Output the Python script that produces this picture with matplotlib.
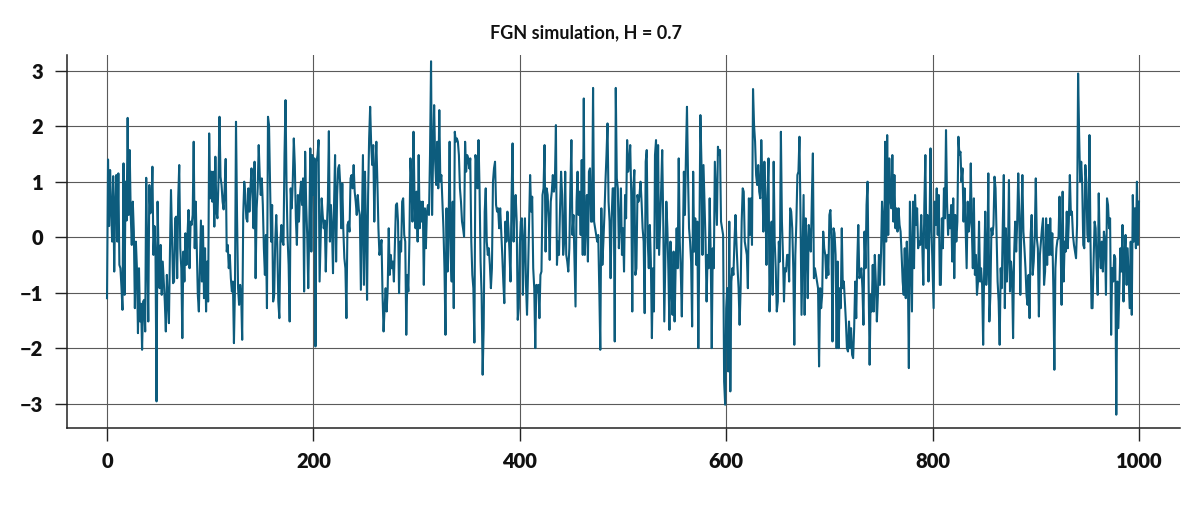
# FGN simulation plot, H = 0.7
import numpy as np
import matplotlib
matplotlib.use("Agg")
import matplotlib.pyplot as plt

# values, 1001 points split in chunks of ~100
seg0 = [-1.10, 1.40, 0.20, 1.21, 0.50, -0.08, 1.10, -0.62, 0.60, 1.12,
        -0.08, 1.15, -0.50, -0.56, -0.90, -1.31, 1.33, -1.04, 1.00, 0.30,
        2.15, 0.40, 1.57, 0.40, -0.14, 0.64, 0.10, -1.28, -0.08, -0.56,
        -1.73, -0.56, -1.52, -1.20, -2.03, -1.16, -1.13, -1.70, 1.07, -0.32,
        -1.52, 0.94, 0.43, 0.49, 1.27, -0.32, 0.20, -0.32, -2.96, 0.64,
        -0.32, -0.92, -0.14, -1.04, -0.44, -0.80, -1.16, -1.70, -0.68, -1.16,
        -1.55, -0.26, 0.85, 0.04, -0.83, -0.80, 0.34, 0.37, -0.74, 0.70,
        1.30, -0.20, -0.56, -1.82, -0.26, -0.80, 0.07, -0.50, 0.04, 0.49,
        -0.56, 0.28, 0.22, 0.40, 1.72, -0.20, 0.64, -0.17, -1.04, -1.34,
        -0.56, 0.30, -0.80, 0.20, -1.10]
seg1 = [-0.20, -1.34, -0.44, -1.16, 1.87, 0.70, 1.18, 0.64, 1.18, 0.19,
        1.45, 0.46, 0.34, 1.00, 2.17, 1.09, 0.94, 0.64, 0.50, 0.88,
        1.41, -0.26, -0.14, -0.56, -0.32, -0.74, -0.98, -0.80, -1.91, -0.92,
        2.08, 0.40, -0.92, -1.22, -0.86, -1.04, -1.85, 0.40, 1.00, 0.76,
        0.34, 0.28, 0.88, 0.46, 0.88, 1.24, 0.76, 0.16, 1.36, -0.74,
        0.52, 0.88, 1.66, 1.12, 0.76, 1.06, 0.58, -0.20, -0.68, 0.04,
        -1.28, 2.17, 2.02, 1.00, -0.08, 0.58, -1.16, -1.04, -0.08, 0.40,
        -0.14, -1.16, -1.46, -0.08, 0.22, -0.08, -0.14, 1.48, 2.47, 0.88,
        -0.02, -0.50, -1.52, 0.88, 0.52, 1.00, 1.78, 1.30, 0.34, -0.14,
        0.76, 0.28, 0.76, 1.00, 0.58, 1.06, -0.98, 1.54, 0.58, 0.04,
        -0.92, 0.16]
seg2 = [1.60, -0.26, 1.48, 0.76, 1.42, -1.97, 1.36, 1.48, 1.75, -0.80,
        -0.08, 0.70, 0.40, 0.16, 0.30, -0.62, 0.16, 0.64, 1.91, -0.08,
        0.58, 0.16, -0.65, 0.58, 1.48, -0.44, 0.76, 1.24, 1.30, 0.94,
        0.16, 0.97, 0.13, -0.38, -0.56, -1.46, 0.22, 0.28, 0.10, 1.06,
        1.12, 0.88, 1.30, 0.82, 0.64, 0.40, 0.76, 0.50, 0.40, -0.95,
        0.28, 1.48, -0.86, 1.18, 0.16, -1.13, 0.76, 1.78, 2.35, 1.66,
        1.30, 1.66, 0.28, 1.18, 1.72, 1.00, 0.16, -0.32, -0.20, -0.05,
        -1.04, -1.70, -1.28, -0.92, -1.34, -0.92, 0.16, -0.68, -0.32, -0.56,
        -0.44, -0.80, -0.08, 0.58, 0.61, 0.28, -1.01, -0.08, -0.26, 0.64,
        0.70, 0.04, -0.08, -1.76, -0.68, -0.98, -0.08, 1.42, 1.00, 0.28,
        1.90]
seg3 = [0.70, 0.16, 0.82, -0.08, 1.48, 0.16, 0.64, 0.28, 0.64,
        -0.86, 0.52, -0.20, 0.46, 0.58, 0.40, 1.48, 3.17, 0.40, 1.48,
        2.38, 1.36, 0.94, 1.72, 0.88, 2.29, 1.00, 1.12, 0.64, 0.16,
        -0.56, -1.76, 0.52, -0.62, 0.16, 1.72, -0.32, -0.80, 0.64, -1.28,
        1.90, 1.72, 1.78, 1.72, 1.48, 0.88, 0.64, 0.28, 0.16, 0.01,
        1.72, 1.18, 1.48, 1.42, 1.24, 1.42, -0.08, -0.68, -0.92, -1.90,
        1.48, 1.36, 0.88, 1.75, 0.88, -0.44, -1.04, -2.48, -1.64, 0.46,
        0.88, -0.08, -0.32, -0.20, -0.50, -0.92, -0.56, 1.00, 1.24, 1.36,
        0.58, 0.46, 0.52, 0.16, 0.52, 0.10, -0.32, -0.80, -1.19, 0.28,
        -0.08, 0.46, 0.16, -0.26, -0.80, 0.70, 1.69, -0.08, 0.52, 0.76,
        0.28, -1.49]
seg4 = [-1.28, -0.14, 0.28, 0.34, -1.04, -0.08, 0.34, -0.86, -1.40, -0.62,
        0.28, 1.12, 0.46, 0.73, -0.56, -0.92, -2.00, -0.86, -0.98, -0.86,
        -1.46, -0.68, -0.62, 0.76, 0.88, 1.66, -0.26, 0.88, 0.76, 0.34,
        -0.41, 0.64, 0.82, 1.12, 0.82, 1.00, 2.02, -0.50, -0.08, -0.32,
        0.52, 1.18, 0.76, -0.32, -0.08, 1.18, -0.32, -0.44, -0.62, -0.20,
        0.88, 1.75, 0.04, 0.40, -0.44, -1.25, 0.64, 1.18, 0.40, 0.82,
        0.04, 1.39, -0.32, 2.50, -0.32, 0.28, 0.76, -0.44, 1.18, 1.24,
        0.28, 0.28, 2.69, 0.28, 0.16, 0.04, -0.08, 0.04, -0.92, -2.03,
        0.52, -0.50, -0.08, 0.40, 1.00, 1.48, 2.05, 0.64, 0.28, -0.74,
        0.34, 0.88, 0.88, -1.88, 2.69, 1.06, 0.88, -0.20, 0.28, 0.88,
        -0.32, 0.16, -0.62]
seg5 = [0.76, 0.34, 1.75, 1.18, 1.36, 1.66, 0.76, -1.34, 0.88, 1.21,
        -0.68, -0.56, 0.76, 0.64, 0.76, 1.00, 0.64, 0.16, -0.08,
        -1.37, 1.36, 1.57, -0.08, -0.56, 0.22, -0.44, -1.82, -0.56, -1.34,
        1.48, 1.75, -0.20, 1.66, -0.32, 0.28, 0.88, 1.57, 0.28, -1.52,
        -0.44, 0.64, 0.16, -0.62, -1.67, -0.08, -0.92, -1.40, -0.26,
        -1.52, -0.56, 0.16, -0.56, 1.42, -0.08, -0.62, -1.43, -0.08, 1.18,
        0.40, 1.48, 2.35, 1.12, 0.16, -0.08, -0.44, -1.61, 1.18, -0.26,
        0.34, -0.50, 0.28, -2.00, -0.08, 2.20, 1.36, -0.32, 1.30,
        0.64, -0.08, -1.16, -0.32, -0.56, 0.70, -0.32, -2.00, -0.20, -0.56,
        1.36, 0.76, 0.22, 1.63, 1.48, 1.57, 0.28, 0.16, 0.04, -2.60,
        -3.02, -1.28, -0.92, -2.42, 0.28]
seg6 = [-2.78,
        -0.80, -0.56, -0.68, -0.08, 0.40, -0.14, -0.56, -0.92, -1.58, -0.92,
        0.28, 0.88, 0.82, -0.08, -0.20, -0.32, -0.92, 0.70, 0.04, 0.70,
        -0.14, 2.67, 2.02, 1.72, 1.12, 0.94, 1.30, 0.82, 0.70, 1.75,
        1.06, 0.10, 1.36, 0.64, -0.50, 0.76, 1.42, -1.34, -0.32, 0.28,
        -1.04, 1.36, -0.08, -0.56, -1.34, -1.16, -0.08, -0.44, 1.90,
        0.28, -0.32, -1.16, -0.56, -0.62, -0.32, -0.32, -0.80, 0.52,
        0.46, 0.16, -0.56, -1.94, -0.32, 0.28, 1.12, 1.18, 1.81, 0.40,
        -1.40, -0.32, 0.76, -1.40, 0.34, -0.08, -1.10, 0.22, 0.04,
        -0.26, 0.70, 1.51, -0.74, -0.56, -0.68, -0.80, -0.92, -2.33, -0.92,
        -1.28, -1.04, 0.10, -0.20, -0.32, -0.74, -0.32, -0.68, 0.40, 0.49,
        -0.08, -1.88, 0.16, 0.07]
seg7 = [-0.32, -2.00, -0.44, -2.00, -0.92, -1.28, 0.16, -0.92, -0.80,
        -1.16, -1.52, -2.00, -2.06, -1.52, -2.00, -1.64, -2.12, -2.18, -1.64,
        -0.80, -1.46, -0.44, 0.22, -0.74, -0.68, -0.56, -0.92, -1.58,
        0.10, -0.56, 0.58, 1.00, -0.80, -2.30, -1.04, -1.34, -0.50, -1.34,
        -0.32, -0.80, -1.52, -1.04, -0.32, -0.86, -0.32, 0.64, 0.28,
        -0.86, 1.72, -0.08, 1.84, 0.04, 1.42, 0.70, 0.52, 1.48, 0.28,
        1.12, 0.16, 0.52, 0.10, 0.52, 0.22, 0.10, -0.32, -0.80, -1.04,
        -0.20, -1.10, -0.08, -0.62, -2.36, 0.64, -0.32, -1.34, 0.64, -0.56,
        0.76, 0.22, 0.52, -0.20, -0.08, -0.14, 0.40, -0.14, -0.86, 0.58,
        1.48, -0.20, 0.40, -0.80, 0.16, 1.60, 0.10, -0.62, -1.28, 0.64,
        0.22, 0.88, 0.04, 0.76, -0.86]
seg8 = [-0.86, 0.34, -0.20, 0.88, 0.34, 1.93, 0.64, 0.04,
        0.40, 0.16, 0.58, -0.44, 0.70, -0.74, 0.40, -0.08, 0.28, 1.81,
        1.48, 1.54, 1.00, 1.24, 0.28, 0.88, 0.16, -0.56, 0.64,
        0.10, 0.28, 1.33, 0.16, -0.56, 0.70, -0.68, -0.32, -1.04, -0.80,
        0.28, -0.80, -0.56, -0.86, -1.94, -0.56, 0.46, -0.86, -0.50, 1.15,
        -1.52, -1.04, 0.16, 0.04, 0.22, 1.09, 0.88, 0.04, -0.80, -1.16,
        -1.94, -0.56, -0.92, 0.22, 1.12, -1.28, 0.16, -0.80, -0.32, 1.03,
        -0.98, -0.44, -0.68, -1.82, -0.32, 0.28, -0.26, 0.28, 1.15, 0.40,
        -1.04, 0.28, 1.12, 0.10, -0.20, -0.56, -1.04, -1.22, -0.68, -1.46,
        0.04, 0.40, -0.68, -0.44, 0.04, 1.06, -0.02, -0.20, -1.43, -0.32,
        -0.08, 0.16, 0.34, -0.86]
seg9 = [-0.62, 0.34, -0.50, 0.22, -0.32, 0.34, -0.32, 0.07, -0.92, -2.39,
        -0.56, -0.20, -0.05, -0.02, 0.73, -0.08, -1.22, 0.82, -0.80,
        -0.08, -0.26, 0.46, -0.20, 0.28, 1.12, 0.40, 0.46, 0.04, -0.14,
        -0.26, -0.38, 0.22, 2.95, 1.84, 1.00, 1.36, 0.94, -0.14, -0.20,
        1.30, 1.00, 0.04, -0.08, 1.84, -0.08, -1.28, -1.28, -0.44,
        0.28, 0.16, -0.56, -1.04, 0.79, -0.20, -0.56, -0.08, -0.62, 0.10,
        -0.08, -1.04, 0.70, 0.58, 0.16, 0.34, -1.76, -0.56, -0.80, -0.32,
        -0.38, -3.20, -0.80, -1.64, -0.92, -0.20, -0.62, 0.22, -1.16, -0.32,
        0.04, -0.86, -0.20, -0.74, -1.28, -0.08, -1.40, 0.76, -0.08, 0.52,
        -0.20, 1.00, -0.14, 0.64]

y = np.array(seg0 + seg1 + seg2 + seg3 + seg4 + seg5 + seg6 + seg7 + seg8 + seg9)
x = np.arange(len(y))

xticks = [0, 200, 400, 600, 800, 1000]
yticks = [-3, -2, -1, 0, 1, 2, 3]
title = "FGN simulation, H = 0.7"

line_color = "#0d5c7d"
grid_color = "#5a5a5a"

plt.rcParams['font.family'] = ['Lato', 'DejaVu Sans']

fig = plt.figure(figsize=(12, 5.11), dpi=100)
# axes box placed by hand so the L-shaped frame sits where the reference has it
ax = fig.add_axes([0.0558, 0.1624, 0.9275, 0.7296])

ax.plot(x, y, color=line_color, lw=1.5, zorder=3)

ax.set_xlim(-38.8, 1039.7)
ax.set_ylim(-3.44, 3.28)
ax.set_xticks(xticks)
ax.set_yticks(yticks)
ax.grid(True, color=grid_color, lw=0.8, zorder=1)

# only left and bottom frame lines
for s in ['top', 'right']:
    ax.spines[s].set_visible(False)
for s in ['left', 'bottom']:
    ax.spines[s].set_color('#222222')
    ax.spines[s].set_linewidth(1.1)

ax.tick_params(axis='both', length=9, width=1.0, color='#222222',
               pad=8, labelsize=14.5, labelcolor='#111111')
for lab in ax.get_xticklabels() + ax.get_yticklabels():
    lab.set_fontweight('heavy')

fig.text(0.488, 0.935, title, ha='center', va='center',
         fontsize=13, fontweight='bold', color='#111111')

fig.savefig('out.png', dpi=100)
